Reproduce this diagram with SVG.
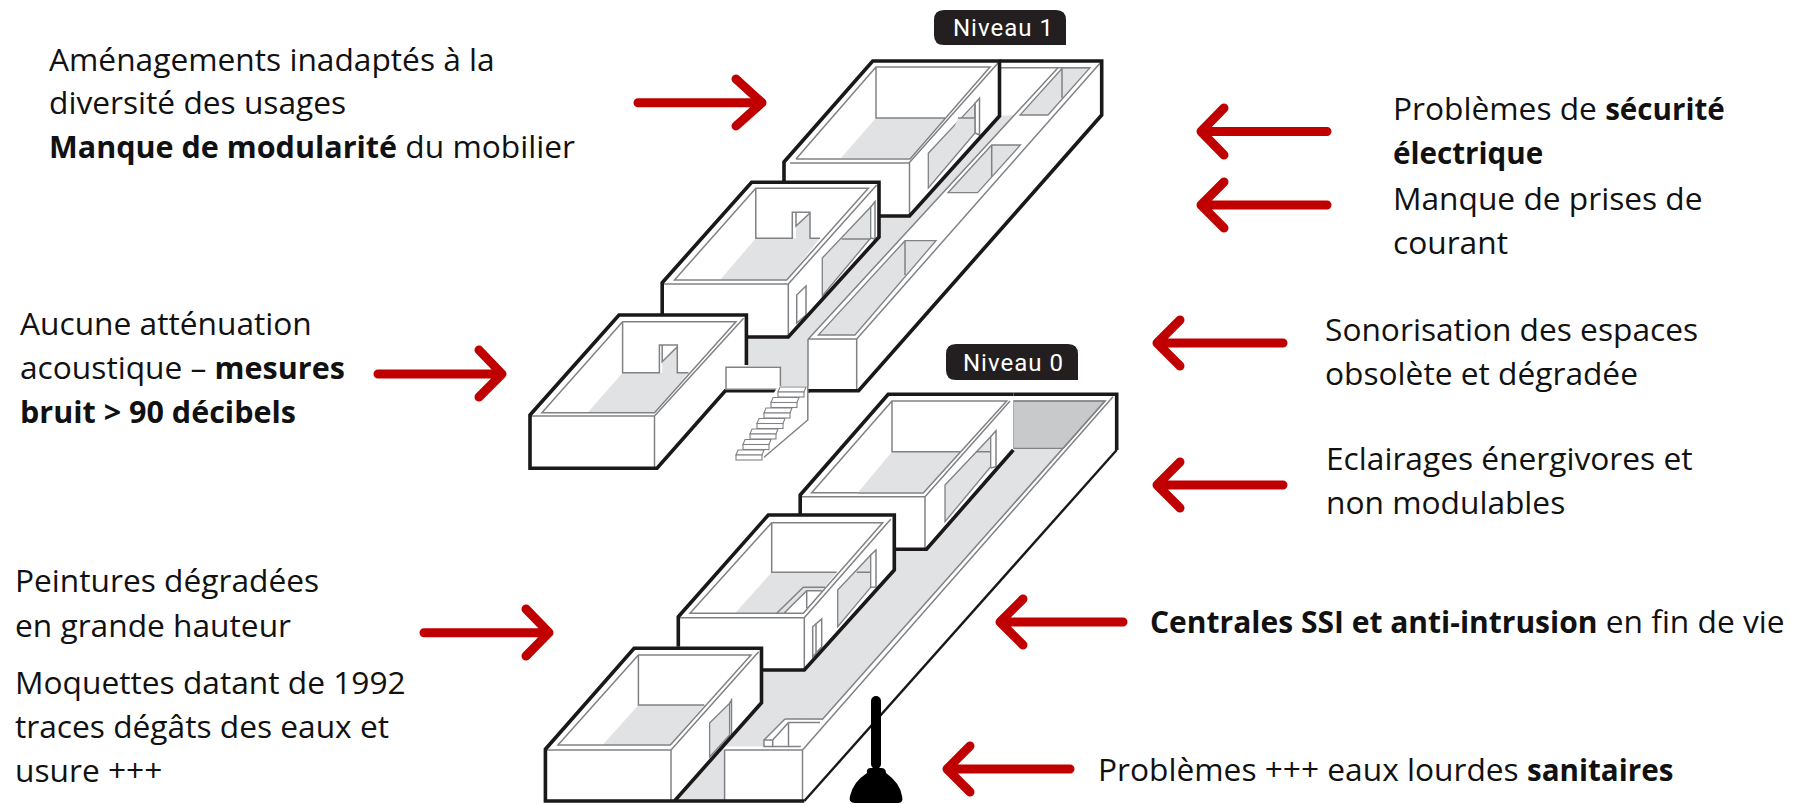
<svg xmlns="http://www.w3.org/2000/svg" xmlns:xlink="http://www.w3.org/1999/xlink" width="1793" height="804" viewBox="0 0 1793 804">
<style>
.o{fill:none;stroke:#1a1818;stroke-width:3.6;stroke-linejoin:miter}
.t{fill:none;stroke:#1a1818;stroke-width:2.4}
.l{fill:none;stroke:#808285;stroke-width:1.5}
.w{fill:#fff;stroke:none}
.g{fill:#e1e2e4;stroke:none}
.gl{fill:#e1e2e4;stroke:#808285;stroke-width:1.3}
.d{fill:#c8c9cb;stroke:#808285;stroke-width:1.2}
.wl{fill:#fff;stroke:#808285;stroke-width:1.5}
.s{fill:#fff;stroke:#808285;stroke-width:1.1}
.a{fill:none;stroke:#c00000;stroke-width:9;stroke-linecap:round;stroke-linejoin:round}
.p{fill:#231f20}
.pt{fill:#fff;font-family:"Roboto","Liberation Sans",sans-serif;font-size:24px;letter-spacing:1px}
.x{font-family:"Open Sans","Noto Sans",sans-serif;font-size:31.7px;fill:#111}
.b{font-weight:700;font-size:30.5px}
.b2{font-weight:700;font-size:29.6px}
.b3{font-weight:700;font-size:30px}
</style>
<defs>
<g id="step"><polygon class="s" points="2,0 28,0 26,5 0,5"/><rect class="s" x="0" y="5" width="26" height="5"/></g>
</defs>
<rect width="1793" height="804" fill="#fff"/>

<g id="niveau1-label"><path class="p" d="M944 10H1056Q1066 10 1066 20V45H944Q934 45 934 35V20Q934 10 944 10Z"/><text class="pt" x="953" y="36">Niveau 1</text></g>
<g id="niveau0-label"><path class="p" d="M956 344H1068Q1078 344 1078 354V380H956Q946 380 946 370V354Q946 344 956 344Z"/><text class="pt" x="963" y="371">Niveau 0</text></g>

<g id="niveau1-strip">
<polygon class="g" points="1014,115 999,116 909.5,216 880,216 879,237 788.3,337 746.4,337 746.4,366 780,366 780,386 807.8,386 807.8,339"/>
<polygon class="gl" points="1062.7,67.7 1090,67.7 1048,115 1020,115"/>
<polygon class="gl" points="991.7,145 1020.4,145 977.6,192.7 948,192.7"/>
<polygon class="gl" points="905,240.7 936,240.7 855,335 818.3,335"/>
<path class="l" d="M1062 68V98M991.7 145V177M905 241V275"/>
<path class="l" d="M1001 67.7H1090M1058 67.7L808.3 339M1100 63.3L856.7 339M808 339H856.7V390M808 339V386"/>
<path class="o" d="M999.5 61H1101.7V115L858.6 390.7H807.8"/>
</g>

<g id="room-a">
<polygon class="w" points="872.7,61 999.5,61 999.5,116 909.5,216 879.7,216 879.7,182 784,182 784,162"/>
<polygon class="g" points="876,118 945,118 910,158 841,158"/>
<polygon class="gl" points="928.3,153.3 975,103.3 975,133 928.3,188"/>
<polygon class="g" points="958,118 975,118 975,133 952,133"/>
<path class="l" d="M876 67V118H945M790 163H909.5V216M796 159H910L990 67H876L796 159M909 163L998 63M975 103.3L979.5 98.3V135L975 133V103M958 118H975"/>
<path class="o" d="M784 182V162L872.7 61H999.5V116L909.5 216H879.7"/>
</g>

<g id="room-b">
<polygon class="w" points="751.6,182.3 879,182.3 879,237 788.3,337 746.4,337 746.4,315 662.2,315 662.2,282.7"/>
<polygon class="g" points="755.8,238.3 820,238.3 786.7,280 720,280"/>
<polygon class="g" points="796,226 810,213 810,239 796,239"/>
<polygon class="gl" points="822.3,258 870.7,207 870.7,238 822.3,296"/>
<path class="l" d="M755.8 188V238.3H792.3V212.3H810V238.3H820M796 212.3V226L810 213M720 280H786.7L868.3 188.3H755.8L674.5 280H720M664 284H788.3V337M788.3 284L876.7 185M841.7 239H870.7M870.7 207L875 201.7V239L870.7 238"/>
<polygon class="wl" points="796.7,295 806,286 806,315 796.7,323"/>
<path class="o" d="M662.2 315V282.7L751.6 182.3H879V237L788.3 337H746.4"/>
</g>

<g id="room-c">
<polygon class="w" points="619,315 746.4,315 746.4,367 725.3,390.7 657,468.3 530,468.3 530,415"/>
<polygon class="g" points="622.6,372.7 688.5,372.7 654.5,412.7 587.5,412.7"/>
<polygon class="g" points="662.2,361.7 677.3,346.7 677.3,373 662.2,373"/>
<path class="l" d="M622.6 321.7V372.7H659.4V345H677.3V372.7H688.5M662.2 345V361.7L677.3 346.7M587.5 412.7H654.5L735.9 321.7H622.6L541.9 412.7H587.5M531 416H654.5V468M654.5 416L743.6 318.3"/>
<path class="o" d="M746.4 365V315H619L530 415V468.3H657L725.3 390.7H779M807.8 390.7H810"/>
</g>

<g id="stairs">
<polygon class="wl" points="726,367.3 780.4,367.3 780.4,389.3 726,389.3"/>
<polygon class="w" points="778,386 807.8,386 807.8,420 764,457 736,457"/>
<path class="l" d="M807.8 386V420L764 457.3"/>
<use xlink:href="#step" x="778" y="387"/>
<use xlink:href="#step" x="771" y="397.5"/>
<use xlink:href="#step" x="764" y="408"/>
<use xlink:href="#step" x="757" y="418.5"/>
<use xlink:href="#step" x="750" y="429"/>
<use xlink:href="#step" x="743" y="439.5"/>
<use xlink:href="#step" x="736" y="450"/>
</g>

<g id="niveau0-strip">
<polygon class="g" points="1013.3,449 1063.3,449 821.8,720 785,719 764,740 764,746.5 724.6,746.5 724.6,801 674.5,801 761.5,702.7 761.5,670 804.3,670 894.3,570 894.3,549.3 926.5,549.3"/>
<polygon class="d" points="1013.3,401 1105,401 1063.3,448.3 1013.3,448.3"/>
<path class="l" d="M1010 401H1105L821.8 720M1113 396.7L802.5 750M724.6 750H802.5V801M724.6 750V801M785 719H821.8"/>
<polygon class="wl" points="764,740 772.7,740 772.7,746.5 764,746.5"/>
<path class="l" d="M764 740L785 719M772.7 740L788.5 722.5H820M788.5 722.5V746.7M772.7 746.5H800.8"/>
<path class="t" d="M1116.7 450L804.3 801"/>
<path class="o" d="M1013.3 394.3H1116.7V450"/>
</g>

<g id="room-d">
<polygon class="w" points="888.2,394.3 1013.3,394.3 1013.3,450 926.5,549.3 894,549.3 894,515 800.2,515 800.2,495"/>
<polygon class="g" points="892,451.7 961,451.7 924,493 857.6,493"/>
<polygon class="gl" points="945,485 990.7,436.7 990.7,466.7 945,521.7"/>
<path class="l" d="M892 401V451.7H961M857.6 493H923.3L1006.7 401H892L811.7 492.7H857.6M801 496.7H925V549M925 496.7L1010 401M976 451.7H990.7M990.7 436.7L996 430.7V466.7L990.7 468"/>
<path class="o" d="M800.2 515V495L888.2 394.3H1013.3M1013.3 450L926.5 549.3H894"/>
</g>

<g id="room-e">
<polygon class="w" points="768.3,515 894.3,515 894.3,570 804.3,670 761.7,670 761.7,646.7 678.3,646.7 678.3,616.7"/>
<polygon class="g" points="771.7,572.3 836.7,572.3 803.3,613.3 735,613.3"/>
<polygon class="w" points="784,613.3 806.7,590.7 821.7,590.7 803.3,613.3"/>
<polygon class="gl" points="837.7,590 870.7,555 870.7,587.3 837.7,626.7"/>
<path class="l" d="M771.7 522.7V572.3H836.7M735 613.3H803.3L882.7 522.7H771.7L690 613.3H735M680 617.7H804.3V670M804.3 617.7L890.7 519.3M776.7 613.3L803.3 587.3H825M784 613.3L806.7 590.7H821.7M806.7 590.7V608.3M856.7 572.3H870.7M870.7 555L876 550V587L870.7 587.3"/>
<polygon class="wl" points="812.7,626.7 821.7,619 821.7,646.7 812.7,656.7"/>
<path class="l" d="M816 623.7V653"/>
<path class="o" d="M678.3 646.7V616.7L768.3 515H894.3V570L804.3 670H761.7"/>
</g>

<g id="room-f">
<polygon class="w" points="634.1,648.3 761.5,648.3 761.5,702.7 674.5,800.7 545.4,801 545.4,749.3"/>
<polygon class="g" points="638.4,705 704.3,705 670.3,745 602.6,745"/>
<polygon class="gl" points="709.6,723 729.6,703.3 729.6,735 709.6,757"/>
<path class="l" d="M638.4 655V705H704.3M602.6 745H670.3L751 655H638.4L558 745H602.6M546 750H671V800M671 750L758.7 651.7M729.6 703.3L731.5 700V735"/>
<path class="o" d="M634.1 648.3H761.5V702.7L674.5 801H545.4V749.3ZM671 801H804.3"/>
</g>

<g id="plunger">
<path d="M876 701V764" fill="none" stroke="#000" stroke-width="10" stroke-linecap="round"/>
<path d="M871 768H881Q886 768 886 773Q900 783 902 796Q904 803 898 803H855Q848 803 850 796Q853 782 867 773Q866 768 871 768Z" fill="#000"/>
</g>

<g id="connectors">
<path class="a" d="M638 102.7H762M736 79L762 102.7L736 126"/>
<path class="a" d="M378 374H502M479 350L502 374L479 397"/>
<path class="a" d="M424 632.7H549M526 609L549 632.7L526 656"/>
<path class="a" d="M1070 769H947M970 746L947 769L970 792"/>
<path class="a" d="M1123 622H1000M1023 599L1000 622L1023 645"/>
<path class="a" d="M1283 485H1157M1180 462L1157 485L1180 508"/>
<path class="a" d="M1283 343H1157M1180 320L1157 343L1180 366"/>
<path class="a" d="M1327 205H1201M1224 182L1201 205L1224 228"/>
<path class="a" d="M1327 131.5H1201M1224 108L1201 131.5L1224 155"/>
</g>

<g id="labels">
<text class="x" x="49" y="71">Aménagements inadaptés à la</text>
<text class="x" x="49" y="114">diversité des usages</text>
<text class="x" x="49" y="158"><tspan class="b">Manque de modularité</tspan> du mobilier</text>
<text class="x" x="20" y="335">Aucune atténuation</text>
<text class="x" x="20" y="379">acoustique – <tspan class="b">mesures</tspan></text>
<text class="x b" x="20" y="423">bruit &gt; 90 décibels</text>
<text class="x" x="15" y="592">Peintures dégradées</text>
<text class="x" x="15" y="637">en grande hauteur</text>
<text class="x" x="15" y="694">Moquettes datant de 1992</text>
<text class="x" x="15" y="738">traces dégâts des eaux et</text>
<text class="x" x="15" y="782">usure +++</text>
<text class="x" x="1393" y="120">Problèmes de <tspan class="b2">sécurité</tspan></text>
<text class="x b2" x="1393" y="164">électrique</text>
<text class="x" x="1393" y="210">Manque de prises de</text>
<text class="x" x="1393" y="254">courant</text>
<text class="x" x="1325" y="341">Sonorisation des espaces</text>
<text class="x" x="1325" y="385">obsolète et dégradée</text>
<text class="x" x="1326" y="470">Eclairages énergivores et</text>
<text class="x" x="1326" y="514">non modulables</text>
<text class="x" x="1150" y="633"><tspan class="b3">Centrales SSI et anti-intrusion</tspan> en fin de vie</text>
<text class="x" x="1098" y="781">Problèmes +++ eaux lourdes <tspan class="b2">sanitaires</tspan></text>
</g>
</svg>
